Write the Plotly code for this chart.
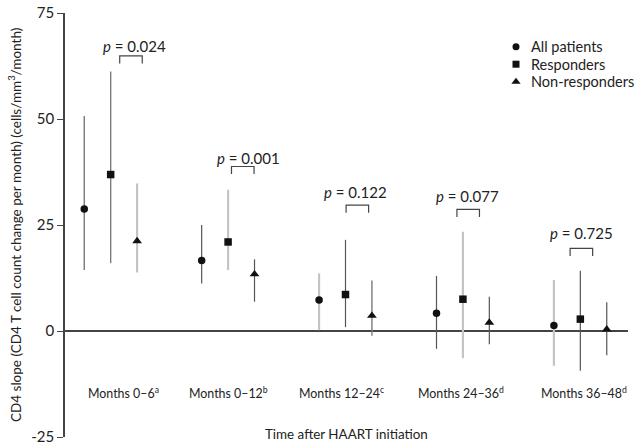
import plotly.graph_objects as go

# ---- data ----
groups = ["Months 0–6<sup>a</sup>", "Months 0–12<sup>b</sup>", "Months 12–24<sup>c</sup>",
          "Months 24–36<sup>d</sup>", "Months 36–48<sup>d</sup>"]
series = ["All patients", "Responders", "Non-responders"]

all_mean = [28.8, 16.6, 7.3, 4.2, 1.3]
all_hi = [50.7, 25.0, 13.6, 13.0, 12.0]
all_lo = [14.4, 11.2, 0.2, -4.2, -8.2]

resp_mean = [36.9, 21.0, 8.6, 7.5, 2.8]
resp_hi = [61.2, 33.3, 21.5, 23.4, 14.2]
resp_lo = [16.0, 14.4, 0.9, -6.4, -9.4]

non_mean = [21.2, 13.4, 3.6, 2.0, 0.4]
non_hi = [34.8, 16.9, 11.9, 8.1, 6.8]
non_lo = [13.8, 6.9, -1.1, -3.1, -5.7]

# error-bar shade per point: 'd' dark, 'm' mid, 'l' light
all_shade = ["m", "d", "l", "d", "l"]
resp_shade = ["m", "l", "d", "l", "d"]
non_shade = ["l", "d", "m", "d", "d"]

p_labels = ["0.024", "0.001", "0.122", "0.077", "0.725"]
p_bracket_y = [64.9, 38.8, 29.7, 28.7, 19.5]
p_text_y = [67.2, 40.8, 32.7, 31.8, 23.0]
p_bracket_shift = [0.173, 0.125, 0.101, 0.045, 0.009]
p_text_shift = [0.207, 0.178, 0.089, 0.041, 0.014]
label_shift = [0.11, 0.0, -0.03, -0.02, 0.03]

y_ticks = [-25, 0, 25, 50, 75]
y_ticktext = ["-25", "0", "25", "50", "75"]

FONT = "Lato, 'Open Sans', sans-serif"
TXT = "#222222"
shade_color = {"d": "#555555", "m": "#7a7a7a", "l": "#c4c4c4"}
shade_width = {"d": 1.2, "m": 1.4, "l": 2.2}

offsets = [-0.225, 0.0, 0.225]
symbols = ["circle", "square", "triangle-up"]
sizes = [7.5, 7.5, 8.5]
means = [all_mean, resp_mean, non_mean]
his = [all_hi, resp_hi, non_hi]
los = [all_lo, resp_lo, non_lo]
shades = [all_shade, resp_shade, non_shade]

fig = go.Figure()

# error bars (per point, to allow shade variation)
for s in range(3):
    for g in range(5):
        x = g + 1 + offsets[s]
        sh = shades[s][g]
        fig.add_trace(go.Scatter(
            x=[x], y=[means[s][g]], mode="markers",
            marker=dict(size=0.1, color="rgba(0,0,0,0)"),
            error_y=dict(type="data", symmetric=False,
                         array=[his[s][g] - means[s][g]],
                         arrayminus=[means[s][g] - los[s][g]],
                         color=shade_color[sh], thickness=shade_width[sh], width=0),
            showlegend=False, hoverinfo="skip"))

# markers
for s in range(3):
    fig.add_trace(go.Scatter(
        x=[g + 1 + offsets[s] for g in range(5)], y=means[s], mode="markers",
        name=series[s],
        marker=dict(symbol=symbols[s], size=sizes[s], color="#111111"),
        showlegend=False))

# manual legend on an overlay axis measured in page pixels
leg_x = 516
leg_text_x = 529
leg_rows = [46.7, 64.2, 81.7]
for s in range(3):
    fig.add_trace(go.Scatter(
        x=[leg_x], y=[leg_rows[s]], mode="markers", xaxis="x2", yaxis="y2",
        marker=dict(symbol=symbols[s], size=sizes[s] - 0.5, color="#111111"),
        showlegend=False, hoverinfo="skip"))
    fig.add_annotation(x=leg_text_x, y=leg_rows[s], xref="x2", yref="y2",
                       text=series[s], showarrow=False, xanchor="left", yanchor="middle",
                       font=dict(family=FONT, size=14.5, color=TXT))

# p-value brackets and labels
half = 0.096
drop = 1.8
for g in range(5):
    cx = g + 1 + p_bracket_shift[g]
    fig.add_shape(type="path",
                  path=f"M {cx-half},{p_bracket_y[g]-drop} L {cx-half},{p_bracket_y[g]} "
                       f"L {cx+half},{p_bracket_y[g]} L {cx+half},{p_bracket_y[g]-drop}",
                  line=dict(color="#444444", width=1.2), xref="x", yref="y")
    fig.add_annotation(x=g + 1 + p_text_shift[g], y=p_text_y[g], xref="x", yref="y",
                       text=f"<i>p</i> = {p_labels[g]}", showarrow=False,
                       xanchor="center", yanchor="middle",
                       font=dict(family=FONT, size=15, color=TXT))

# category labels
for g in range(5):
    fig.add_annotation(x=g + 1 + label_shift[g], y=-14.6, xref="x", yref="y", text=groups[g],
                       showarrow=False, xanchor="center", yanchor="middle",
                       font=dict(family=FONT, size=12.4, color=TXT))

# axis titles
fig.add_annotation(x=0.5, y=0.007, xref="paper", yref="paper",
                   text="Time after HAART initiation", showarrow=False,
                   xanchor="center", yanchor="middle",
                   font=dict(family=FONT, size=13.4, color=TXT))
fig.add_annotation(x=-0.0888, y=0.5, xref="paper", yref="paper", textangle=-90,
                   text="CD4 slope (CD4 T cell count change per month) (cells/mm<sup>3</sup>/month)",
                   showarrow=False, xanchor="center", yanchor="middle",
                   font=dict(family=FONT, size=13.5, color=TXT))

fig.update_layout(
    width=639, height=446,
    margin=dict(l=65, r=11, t=13, b=9, autoexpand=False),
    paper_bgcolor="white", plot_bgcolor="white",
    font=dict(family=FONT, size=14, color=TXT),
    xaxis=dict(range=[0.611, 5.406], visible=False, showgrid=False, zeroline=False),
    yaxis=dict(range=[-25, 75], tickvals=y_ticks, ticktext=y_ticktext, automargin=False,
               showline=True, linecolor="#444444", linewidth=1.5,
               ticks="outside", ticklen=6, tickwidth=1.2, tickcolor="#444444",
               showgrid=False, zeroline=True, zerolinecolor="#444444", zerolinewidth=1.5,
               tickfont=dict(family=FONT, size=15, color=TXT)),
    xaxis2=dict(range=[65, 628], overlaying="x", visible=False, showgrid=False,
                zeroline=False),
    yaxis2=dict(range=[437, 13], overlaying="y", visible=False, showgrid=False,
                zeroline=False),
    showlegend=False,
)

fig.write_html("out.html", config={"displayModeBar": False},
               post_script="document.body.style.margin='0px';"
                           "document.body.style.overflow='hidden';")
